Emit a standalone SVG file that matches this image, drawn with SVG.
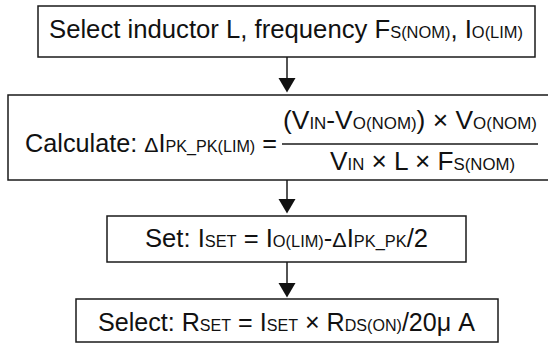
<svg xmlns="http://www.w3.org/2000/svg" width="548" height="343" viewBox="0 0 548 343">
<style>
.box{fill:#fff;stroke:#1a1a1a;stroke-width:1.5}
.t{font-family:"Liberation Sans",Arial,sans-serif;font-size:25px;fill:#111}
.s{font-size:16px}
.d{font-size:21px}
.ln{stroke:#1a1a1a;stroke-width:1.5;fill:none}
.ah{fill:#111}
</style>
<rect width="548" height="343" fill="#fff"/>
<g id="node1">
<rect class="box" x="38" y="6" width="497" height="51"/>
<text class="t" x="49" y="38" textLength="474" lengthAdjust="spacingAndGlyphs">Select inductor L, frequency F<tspan class="s">S(NOM)</tspan>, I<tspan class="s">O(LIM)</tspan></text>
</g>
<g id="node2">
<rect class="box" x="8" y="95" width="542" height="85"/>
<text class="t" x="25" y="152" textLength="252" lengthAdjust="spacingAndGlyphs">Calculate: <tspan class="d">Δ</tspan>I<tspan class="s">PK_PK(LIM)</tspan> =</text>
<text class="t" x="283" y="129" textLength="254" lengthAdjust="spacingAndGlyphs">(V<tspan class="s">IN</tspan>-V<tspan class="s">O(NOM)</tspan>) × V<tspan class="s">O(NOM)</tspan></text>
<line class="ln" x1="282" y1="144" x2="538" y2="144"/>
<text class="t" x="330" y="170" textLength="185" lengthAdjust="spacingAndGlyphs">V<tspan class="s">IN</tspan> × L × F<tspan class="s">S(NOM)</tspan></text>
</g>
<g id="node3">
<rect class="box" x="107" y="216" width="359" height="46"/>
<text class="t" x="145" y="247" textLength="283" lengthAdjust="spacingAndGlyphs">Set: I<tspan class="s">SET</tspan> =  I<tspan class="s">O(LIM)</tspan>-<tspan class="d">Δ</tspan>I<tspan class="s">PK_PK</tspan>/2</text>
</g>
<g id="node4">
<rect class="box" x="76" y="299" width="422" height="43"/>
<text class="t" x="98" y="331" textLength="377" lengthAdjust="spacingAndGlyphs">Select: R<tspan class="s">SET</tspan> = I<tspan class="s">SET</tspan> × R<tspan class="s">DS(ON)</tspan>/20μ A</text>
</g>
<g id="connectors">
<line class="ln" x1="287" y1="57" x2="287" y2="80"/>
<polygon class="ah" points="278.5,78 295.5,78 287,92.5"/>
<line class="ln" x1="287" y1="180" x2="287" y2="201"/>
<polygon class="ah" points="278.5,199 295.5,199 287,213.5"/>
<line class="ln" x1="287" y1="262" x2="287" y2="285"/>
<polygon class="ah" points="278.5,283 295.5,283 287,297.5"/>
</g>
</svg>
